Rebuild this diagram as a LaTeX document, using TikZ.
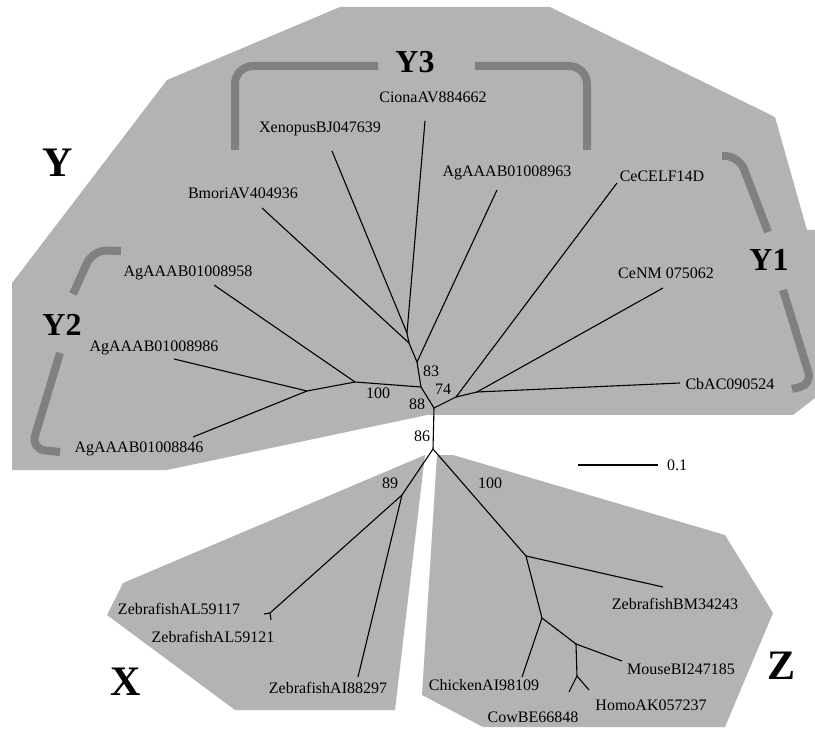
\documentclass[tikz,border=0pt]{standalone}
\usepackage{fontspec}
\setmainfont{Liberation Serif}
\definecolor{cladegray}{RGB}{179,179,179}
\definecolor{bracegray}{RGB}{128,128,128}
\tikzset{
  clade/.style={fill=cladegray, draw=none},
  branch/.style={line width=1.1pt},
  bracket/.style={line width=8pt, draw=bracegray, rounded corners=18pt},
  taxon/.style={inner sep=0pt, font=\fontsize{16}{18}\selectfont},
  boot/.style={inner sep=0pt, font=\fontsize{16}{18}\selectfont},
  group/.style={inner sep=0pt, font=\bfseries\fontsize{42}{48}\selectfont},
  subgroup/.style={inner sep=0pt, font=\bfseries\fontsize{32}{36}\selectfont},
}
\begin{document}
\begin{tikzpicture}[x=1pt,y=-1pt]
\useasboundingbox (0,0) rectangle (815,730);

% Grupos sombreados
\fill[clade] (12,283) -- (167,80) -- (340,7) -- (550,7) -- (775,117) -- (807,230)
  -- (815,230) -- (815,398) -- (793,415) -- (427,415) -- (167,470) -- (12,470) -- cycle;
\fill[clade] (425,455) -- (123,583) -- (107,615) -- (235,710) -- (395,710) -- cycle;
\fill[clade] (437,455) -- (453,455) -- (725,535) -- (773,613) -- (725,727)
  -- (483,727) -- (422,695) -- cycle;

% Colchetes Y1, Y2, Y3
\draw[bracket] (235,150) -- (235,66) -- (378,66);
\draw[bracket] (475,66) -- (587,66) -- (587,150);
\draw[bracket, rounded corners=14pt] (722,156) -- (739,156) -- (768,232);
\draw[bracket, rounded corners=12pt] (783,290) -- (812,384) -- (792,389);
\draw[bracket, rounded corners=14pt] (121,251) -- (93,250) -- (73,294);
\draw[bracket, rounded corners=14pt] (60,353) -- (31,449) -- (60,452);

% Nos internos
\coordinate (r86) at (433,449);
\coordinate (rootY) at (434,408);
\coordinate (n74) at (456,397);
\coordinate (nCb) at (477,392);
\coordinate (n88) at (421,387);
\coordinate (n83) at (417,362);
\coordinate (nBX) at (409,343);
\coordinate (nXC) at (407,333);
\coordinate (n100) at (355,382);
\coordinate (n846) at (307,391);
\coordinate (n89) at (402,495);
\coordinate (nAL) at (270,613);
\coordinate (nZ1) at (526,556);
\coordinate (nZ2) at (542,618);
\coordinate (nZ3) at (576,644);
\coordinate (nZ4) at (577,676);

% Pontas dos ramos
\coordinate (e-ciona) at (425,121);
\coordinate (e-xeno) at (332,151);
\coordinate (e-bmori) at (262,208);
\coordinate (e-963) at (497,190);
\coordinate (e-celf) at (617,183);
\coordinate (e-cenm) at (663,288);
\coordinate (e-cbac) at (680,383);
\coordinate (e-958) at (214,285);
\coordinate (e-986) at (174,359);
\coordinate (e-846) at (193,437);
\coordinate (e-117) at (264,614);
\coordinate (e-121) at (271,620);
\coordinate (e-297) at (358,677);
\coordinate (e-bm) at (663,587);
\coordinate (e-chick) at (522,677);
\coordinate (e-mouse) at (622,661);
\coordinate (e-cow) at (569,692);
\coordinate (e-homo) at (589,690);

% Ramos do grupo Y
\draw[branch] (r86) -- (rootY);
\draw[branch] (rootY) -- (n88) -- (n83) -- (nBX) -- (nXC);
\draw[branch] (nXC) -- (e-ciona);
\draw[branch] (nXC) -- (e-xeno);
\draw[branch] (nBX) -- (e-bmori);
\draw[branch] (n83) -- (e-963);
\draw[branch] (rootY) -- (n74) -- (nCb);
\draw[branch] (n74) -- (e-celf);
\draw[branch] (nCb) -- (e-cenm);
\draw[branch] (nCb) -- (e-cbac);
\draw[branch] (n88) -- (n100) -- (n846);
\draw[branch] (n100) -- (e-958);
\draw[branch] (n846) -- (e-986);
\draw[branch] (n846) -- (e-846);

% Ramos do grupo X
\draw[branch] (r86) -- (n89) -- (nAL);
\draw[branch] (nAL) -- (e-117);
\draw[branch] (nAL) -- (e-121);
\draw[branch] (n89) -- (e-297);

% Ramos do grupo Z
\draw[branch] (r86) -- (nZ1) -- (nZ2) -- (nZ3) -- (nZ4);
\draw[branch] (nZ1) -- (e-bm);
\draw[branch] (nZ2) -- (e-chick);
\draw[branch] (nZ3) -- (e-mouse);
\draw[branch] (nZ4) -- (e-cow);
\draw[branch] (nZ4) -- (e-homo);

% Nomes das sequencias
\node[taxon] (ciona) at (433,97) {CionaAV884662};
\node[taxon] (xeno) at (320,129) {XenopusBJ047639};
\node[taxon] (bmori) at (243,193) {BmoriAV404936};
\node[taxon] (ag963) at (507,173) {AgAAAB01008963};
\node[taxon] (celf) at (662,176) {CeCELF14D};
\node[taxon] (cenm) at (666,273) {CeNM 075062};
\node[taxon] (cbac) at (730,384) {CbAC090524};
\node[taxon] (ag958) at (188,273) {AgAAAB01008958};
\node[taxon] (ag986) at (154,348) {AgAAAB01008986};
\node[taxon] (ag846) at (139,449) {AgAAAB01008846};
\node[taxon] (zal117) at (179,609) {ZebrafishAL59117};
\node[taxon] (zal121) at (213,637) {ZebrafishAL59121};
\node[taxon] (zai) at (328,688) {ZebrafishAI88297};
\node[taxon] (zbm) at (675,604) {ZebrafishBM34243};
\node[taxon] (chick) at (484,685) {ChickenAI98109};
\node[taxon] (mouse) at (681,669) {MouseBI247185};
\node[taxon] (homo) at (651,705) {HomoAK057237};
\node[taxon] (cow) at (533,717) {CowBE66848};

% Valores de bootstrap
\node[boot] (b86) at (422,436) {86};
\node[boot] (b88) at (417,404) {88};
\node[boot] (b83) at (431,371) {83};
\node[boot] (b74) at (443,389) {74};
\node[boot] (b100y) at (378,393) {100};
\node[boot] (b89) at (390,483) {89};
\node[boot] (b100z) at (490,483) {100};

% Escala
\coordinate (sb-a) at (578,465);
\coordinate (sb-b) at (658,465);
\draw[branch] (sb-a) -- (sb-b);
\node[boot, anchor=west] (sblabel) at (667,465) {0.1};

% Rotulos dos grupos
\node[group] (gY) at (58,163) {Y};
\node[group] (gX) at (126,682) {X};
\node[group] (gZ) at (782,666) {Z};
\node[subgroup] (gY1) at (769,260) {Y1};
\node[subgroup] (gY2) at (62,325) {Y2};
\node[subgroup] (gY3) at (415,62) {Y3};

\end{tikzpicture}
\end{document}
